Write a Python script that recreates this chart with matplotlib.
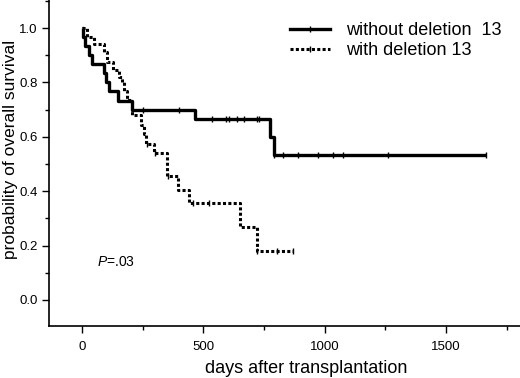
import matplotlib
matplotlib.use('Agg')
import matplotlib.pyplot as plt
from matplotlib.lines import Line2D
from matplotlib.ticker import MultipleLocator

plt.rcParams['font.family'] = ['Liberation Sans', 'DejaVu Sans']
plt.rcParams['mathtext.fontset'] = 'custom'
plt.rcParams['mathtext.it'] = 'Liberation Sans:italic'
plt.rcParams['mathtext.rm'] = 'Liberation Sans'

# Kaplan-Meier steps (days, survival)
no_del_days = [0, 5, 15, 28, 42, 93, 100, 113, 150, 205, 466, 775, 790, 1666]
no_del_surv = [1.0, 0.967, 0.933, 0.90, 0.867, 0.833, 0.80, 0.767, 0.733, 0.70,
               0.667, 0.60, 0.533, 0.533]
no_del_cens = [251, 400, 535, 593, 606, 638, 669, 720, 731, 792, 830, 891,
               974, 1033, 1077, 1262, 1666]

del_days = [0, 20, 50, 90, 105, 129, 153, 165, 175, 185, 205, 244, 255, 265,
            298, 350, 397, 443, 650, 720, 871]
del_surv = [1.0, 0.967, 0.94, 0.91, 0.876, 0.845, 0.82, 0.80, 0.77, 0.735, 0.68,
            0.645, 0.61, 0.575, 0.54, 0.456, 0.405, 0.355, 0.268, 0.179, 0.179]
del_cens = [270, 300, 355, 459, 525, 723, 802, 871]

labels = ['without deletion  13', 'with deletion 13']


def surv_at(days, surv, t):
    val = surv[0]
    for d, s in zip(days, surv):
        if d <= t:
            val = s
    return val


fig = plt.figure(figsize=(5.2, 3.78), dpi=100)
ax = fig.add_axes([49 / 520, 52 / 378, 471 / 520, 326 / 378])

dot_style = (0, (1, 0.75))

ax.step(no_del_days, no_del_surv, where='post', color='black', lw=2.4,
        solid_capstyle='butt')
ax.step(del_days, del_surv, where='post', color='black', lw=2.2,
        linestyle=dot_style, dash_capstyle='butt')

# censored observations
ax.plot(no_del_cens, [surv_at(no_del_days, no_del_surv, t) for t in no_del_cens],
        linestyle='none', marker='|', ms=5, mew=1, color='black')
ax.plot(del_cens, [surv_at(del_days, del_surv, t) for t in del_cens],
        linestyle='none', marker='|', ms=5, mew=1, color='black')

ax.text(62, 0.14, r'$P$=.03', fontsize=10, va='center', ha='left')

# axes
ax.set_xlim(-135, 1804)
ax.set_ylim(-0.096, 1.103)
ax.xaxis.set_major_locator(MultipleLocator(500))
ax.xaxis.set_minor_locator(MultipleLocator(250))
ax.yaxis.set_major_locator(MultipleLocator(0.2))
ax.yaxis.set_minor_locator(MultipleLocator(0.1))
ax.yaxis.set_major_formatter(plt.FormatStrFormatter('%.1f'))
ax.tick_params(which='major', length=5, width=1, labelsize=9.5, pad=3)
ax.tick_params(which='minor', length=3, width=1)
ax.tick_params(axis='x', pad=6)
for side in ['top', 'right']:
    ax.spines[side].set_visible(False)
for side in ['left', 'bottom']:
    ax.spines[side].set_linewidth(1.2)

ax.set_xlabel('days after transplantation', fontsize=13)
ax.set_ylabel('probability of overall survival', fontsize=12.5)
ax.xaxis.set_label_coords(0.547, -0.105)
ax.yaxis.set_label_coords(-0.066, 0.543)

# legend
handles = [
    Line2D([], [], color='black', lw=2.4, marker='|', ms=5, mew=1),
    Line2D([], [], color='black', lw=2.2, linestyle=dot_style,
           dash_capstyle='butt', marker='|', ms=5, mew=1),
]
ax.legend(handles, labels, loc='upper left', bbox_to_anchor=(0.512, 0.933),
          frameon=False, fontsize=13, handlelength=2.2, handletextpad=0.9,
          labelspacing=0.2, borderpad=0, borderaxespad=0, numpoints=1)

fig.savefig('out.png', dpi=100)
